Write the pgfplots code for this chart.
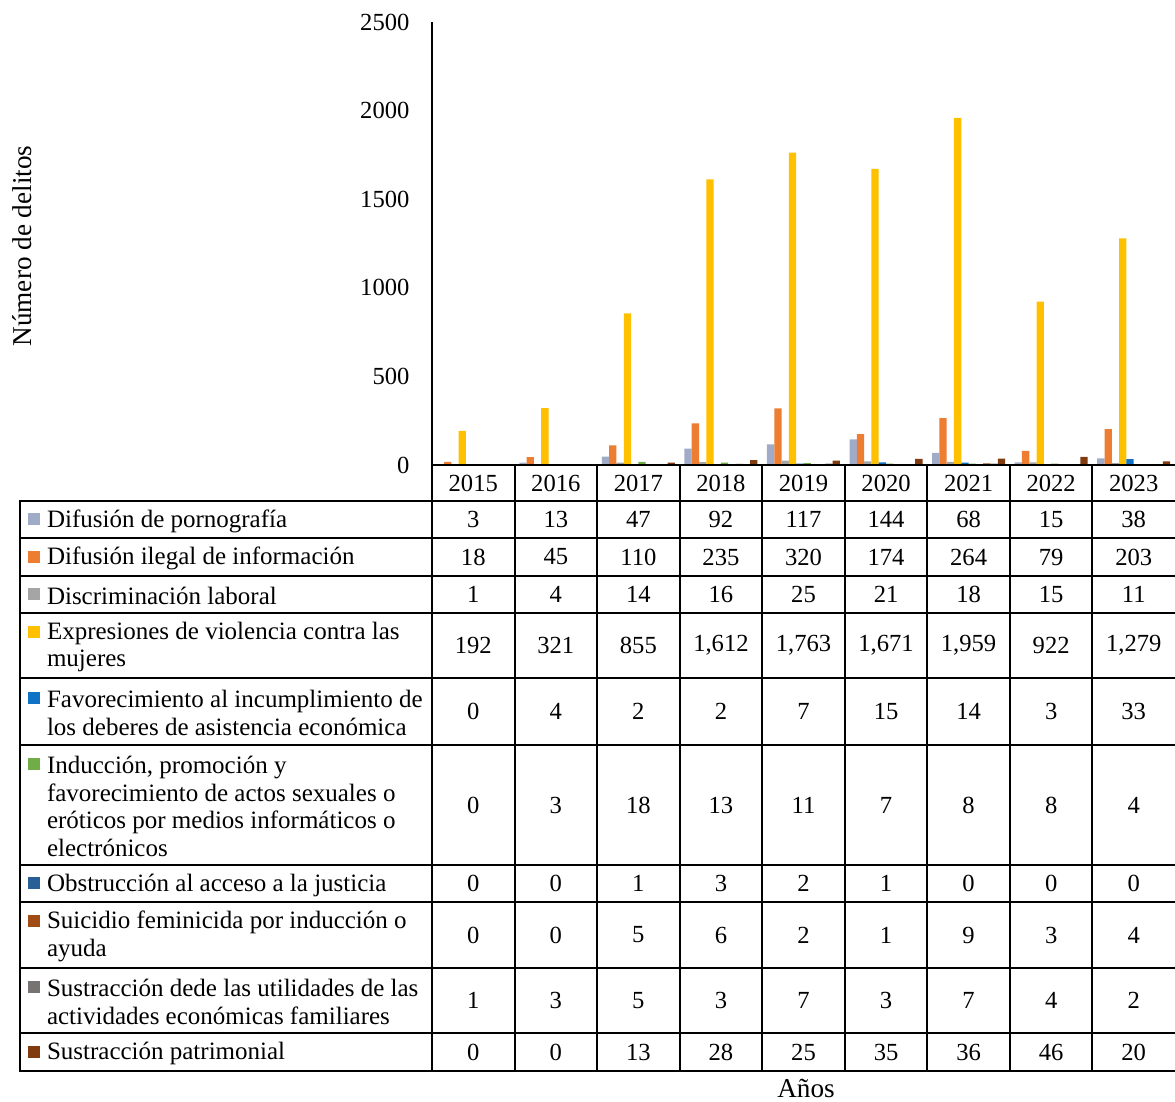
\documentclass[border=0pt]{standalone}
\usepackage{pgfplots}
\pgfplotsset{compat=1.18}
\usepackage{pgfplotstable}
\usepackage{fontspec}
\setmainfont{Liberation Serif}
\definecolor{c1}{HTML}{9FABC7}
\definecolor{c2}{HTML}{ED7D31}
\definecolor{c3}{HTML}{A5A5A5}
\definecolor{c4}{HTML}{FFC000}
\definecolor{c5}{HTML}{0F72C4}
\definecolor{c6}{HTML}{70AD47}
\definecolor{c7}{HTML}{285F94}
\definecolor{c8}{HTML}{A04C14}
\definecolor{c9}{HTML}{777373}
\definecolor{c10}{HTML}{803B0E}
\pgfplotstableread{
x s1 s2 s3 s4 s5 s6 s7 s8 s9 s10
0 3 18 1 192 0 0 0 0 1 0
1 13 45 4 321 4 3 0 0 3 0
2 47 110 14 855 2 18 1 5 5 13
3 92 235 16 1612 2 13 3 6 3 28
4 117 320 25 1763 7 11 2 2 7 25
5 144 174 21 1671 15 7 1 1 3 35
6 68 264 18 1959 14 8 0 9 7 36
7 15 79 15 922 3 8 0 3 4 46
8 38 203 11 1279 33 4 0 4 2 20
}\datatable
\newcommand\tabrow[5]{%
  \fill[#3] (28,{#1-(#2-1)*13.75-6}) rectangle ++(12,12);
  \node[anchor=west, align=left, inner sep=0pt, font=\fontsize{12.5}{13.75}\selectfont] at (46,#1+1.5) {#4};
  \foreach \v [count=\i from 0] in {#5} \node at ({432+(\i+0.5)*82.556},#1) {\v};
}
\begin{document}
\fontsize{12.3}{13.75}\selectfont
\begin{tikzpicture}
\useasboundingbox (0,0) rectangle (587.5pt,551pt);
\begin{axis}[
  at={(216pt,318.5pt)}, anchor=south west,
  scale only axis, width=371.5pt, height=221.5pt,
  xmin=-0.5, xmax=8.5, ymin=0, ymax=2500,
  ybar=0pt, bar width=3.65pt,
  axis x line=none, axis y line=left,
  axis line style={-, black, line width=1pt},
  xtick=\empty,
  ytick={0,500,1000,1500,2000,2500},
  major tick length=0pt,
  /pgf/number format/assume math mode=true,
  /pgf/number format/1000 sep={},
  yticklabel style={xshift=-7pt, font=\fontsize{12.3}{13.75}\selectfont},
  clip=false,
]
\addplot[fill=c1, draw=none] table[x=x,y=s1]{\datatable};
\addplot[fill=c2, draw=none] table[x=x,y=s2]{\datatable};
\addplot[fill=c3, draw=none] table[x=x,y=s3]{\datatable};
\addplot[fill=c4, draw=none] table[x=x,y=s4]{\datatable};
\addplot[fill=c5, draw=none] table[x=x,y=s5]{\datatable};
\addplot[fill=c6, draw=none] table[x=x,y=s6]{\datatable};
\addplot[fill=c7, draw=none] table[x=x,y=s7]{\datatable};
\addplot[fill=c8, draw=none] table[x=x,y=s8]{\datatable};
\addplot[fill=c9, draw=none] table[x=x,y=s9]{\datatable};
\addplot[fill=c10, draw=none] table[x=x,y=s10]{\datatable};
\end{axis}
\begin{scope}[yshift=551pt, x=0.5pt, y=-0.5pt, line width=1pt, line cap=rect]
  \draw (432,465) -- (1176,465);
  \foreach \y in {501,538,576,613,678,745,865,902,968,1033,1071} \draw (20,\y) -- (1176,\y);
  \draw (20,501) -- (20,1071);
  \foreach \k in {0,...,8} \draw ({432+\k*82.556},465) -- ({432+\k*82.556},1071);
  \foreach \y [count=\i from 0] in {2015,2016,2017,2018,2019,2020,2021,2022,2023}
    \node at ({432+(\i+0.5)*82.556},483) {\y};
  \tabrow{519.5}{1}{c1}{Difusión de pornografía}{3,13,47,92,117,144,68,15,38}
  \tabrow{557}{1}{c2}{Difusión ilegal de información}{18,45,110,235,320,174,264,79,203}
  \tabrow{594.5}{1}{c3}{Discriminación laboral}{1,4,14,16,25,21,18,15,11}
  \tabrow{645.5}{2}{c4}{Expresiones de violencia contra las\\mujeres}{192,321,855,{1,612},{1,763},{1,671},{1,959},922,{1,279}}
  \tabrow{711.5}{2}{c5}{Favorecimiento al incumplimiento de\\los deberes de asistencia económica}{0,4,2,2,7,15,14,3,33}
  \tabrow{805}{4}{c6}{Inducción, promoción y\\favorecimiento de actos sexuales o\\eróticos por medios informáticos o\\electrónicos}{0,3,18,13,11,7,8,8,4}
  \tabrow{883.5}{1}{c7}{Obstrucción al acceso a la justicia}{0,0,1,3,2,1,0,0,0}
  \tabrow{935}{2}{c8}{Suicidio feminicida por inducción o\\ayuda}{0,0,5,6,2,1,9,3,4}
  \tabrow{1000.5}{2}{c9}{Sustracción dede las utilidades de las\\actividades económicas familiares}{1,3,5,3,7,3,7,4,2}
  \tabrow{1052}{1}{c10}{Sustracción patrimonial}{0,0,13,28,25,35,36,46,20}
  \node[rotate=90, font=\fontsize{13.6}{15}\selectfont] at (22,246) {Número de delitos};
  \node[font=\fontsize{13.6}{15}\selectfont] at (806,1088) {Años};
\end{scope}
\end{tikzpicture}
\end{document}
